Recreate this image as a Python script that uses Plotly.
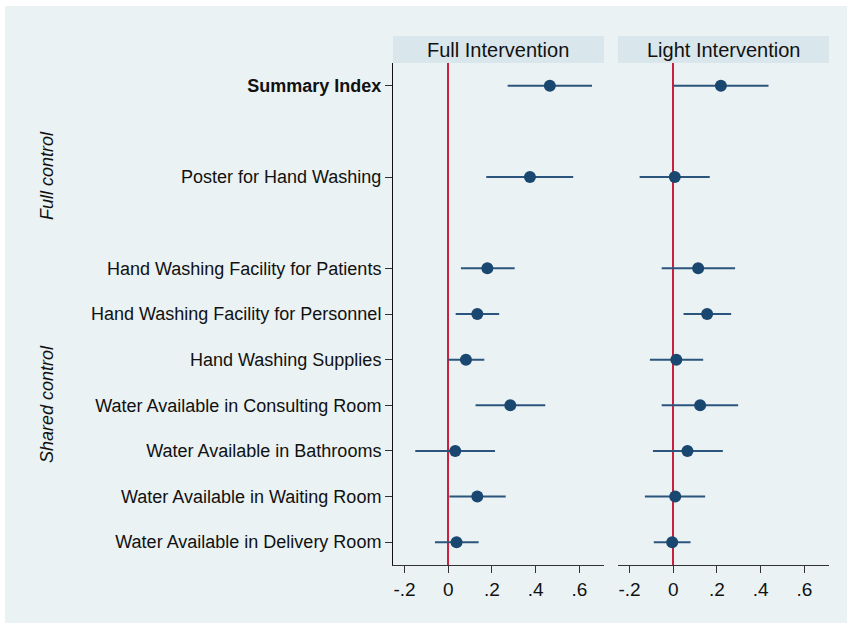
import plotly.graph_objects as go

# Outcome labels, listed from top to bottom of the chart
outcomes = [
    "<b>Summary Index</b>",
    "Poster for Hand Washing",
    "Hand Washing Facility for Patients",
    "Hand Washing Facility for Personnel",
    "Hand Washing Supplies",
    "Water Available in Consulting Room",
    "Water Available in Bathrooms",
    "Water Available in Waiting Room",
    "Water Available in Delivery Room",
]
# Vertical slot of each outcome (gaps separate the groups)
positions = [10, 8, 6, 5, 4, 3, 2, 1, 0]

# Full intervention: point estimates and 95% CI bounds
full_est = [0.465, 0.374, 0.179, 0.133, 0.081, 0.284, 0.032, 0.133, 0.038]
full_lo = [0.272, 0.174, 0.058, 0.034, 0.000, 0.125, -0.151, 0.005, -0.061]
full_hi = [0.658, 0.572, 0.304, 0.233, 0.165, 0.444, 0.214, 0.263, 0.139]

# Light intervention: point estimates and 95% CI bounds
light_est = [0.218, 0.007, 0.114, 0.155, 0.014, 0.123, 0.065, 0.009, -0.005]
light_lo = [0.001, -0.154, -0.053, 0.047, -0.107, -0.053, -0.093, -0.130, -0.089]
light_hi = [0.436, 0.167, 0.283, 0.265, 0.137, 0.297, 0.227, 0.146, 0.079]

panel_titles = ["Full Intervention", "Light Intervention"]
x_ticks = [-0.2, 0, 0.2, 0.4, 0.6]
x_tick_text = ["-.2", "0", ".2", ".4", ".6"]

W, H = 847, 623
NAVY = "#1a476f"
RED = "#c8203f"
BG = "#eaf2f3"
HEADER = "#d9e6eb"
FONT = "Liberation Sans, Arial, sans-serif"


def px_x(v):
    return v / W


def px_y(v):
    return 1 - v / H


fig = go.Figure()

for i, (est, lo, hi) in enumerate([(full_est, full_lo, full_hi),
                                    (light_est, light_lo, light_hi)]):
    suffix = "" if i == 0 else "2"
    fig.add_trace(go.Scatter(
        x=est, y=positions,
        mode="markers",
        marker=dict(color=NAVY, size=12),
        error_x=dict(type="data", symmetric=False,
                     array=[h - e for h, e in zip(hi, est)],
                     arrayminus=[e - l for e, l in zip(est, lo)],
                     width=0, thickness=2, color="#2b557c"),
        xaxis="x" + suffix, yaxis="y" + suffix,
        showlegend=False, hoverinfo="skip",
    ))

plot_top, plot_bottom = 63, 565
panels = [(393, 604), (618, 829)]

xaxis_common = dict(
    range=[-0.253, 0.713], tickvals=x_ticks, ticktext=x_tick_text,
    ticks="outside", ticklen=7, tickwidth=1, tickcolor="#333",
    showline=True, linecolor="#333", linewidth=1,
    showgrid=False, zeroline=True, zerolinecolor=RED, zerolinewidth=2,
    tickfont=dict(family=FONT, size=19, color="#111"),
    fixedrange=True,
)
yaxis_common = dict(
    range=[-0.5, 10.5], tickvals=positions,
    showgrid=True, gridcolor=BG, gridwidth=2,
    zeroline=False, domain=[px_y(plot_bottom), px_y(plot_top)],
    fixedrange=True,
)

layout = dict(
    width=W, height=H,
    margin=dict(l=0, r=0, t=0, b=0),
    paper_bgcolor="white", plot_bgcolor="white",
    font=dict(family=FONT, color="#111"),
    xaxis=dict(domain=[px_x(panels[0][0]), px_x(panels[0][1])], anchor="y",
               **xaxis_common),
    xaxis2=dict(domain=[px_x(panels[1][0]), px_x(panels[1][1])], anchor="y2",
                **xaxis_common),
    yaxis=dict(anchor="x", ticktext=outcomes, ticks="outside", ticklen=7,
               tickcolor="#333", showline=True, linecolor="#111", linewidth=1,
               tickfont=dict(family=FONT, size=18, color="#111"),
               **yaxis_common),
    yaxis2=dict(anchor="x2", showticklabels=False, ticks="", showline=False,
                **yaxis_common),
)
fig.update_layout(**layout)

shapes = [dict(type="rect", xref="paper", yref="paper",
               x0=px_x(5), x1=1, y0=0, y1=px_y(6),
               fillcolor=BG, line=dict(width=0), layer="below")]
annotations = []
for (x0, x1), title in zip(panels, panel_titles):
    shapes.append(dict(type="rect", xref="paper", yref="paper",
                       x0=px_x(x0), x1=px_x(x1), y0=px_y(63), y1=px_y(36),
                       fillcolor=HEADER, line=dict(width=0), layer="below"))
    annotations.append(dict(text=title, xref="paper", yref="paper",
                            x=px_x((x0 + x1) / 2), y=px_y(49.5),
                            showarrow=False, xanchor="center", yanchor="middle",
                            font=dict(family=FONT, size=20, color="#111")))

for label, ypx in [("Full control", 176), ("Shared control", 404)]:
    annotations.append(dict(text="<i>" + label + "</i>", xref="paper",
                            yref="paper", x=px_x(47), y=px_y(ypx),
                            textangle=-90, showarrow=False,
                            xanchor="center", yanchor="middle",
                            font=dict(family=FONT, size=18, color="#111")))

fig.update_layout(shapes=shapes, annotations=annotations)
fig.write_html("out.html")
